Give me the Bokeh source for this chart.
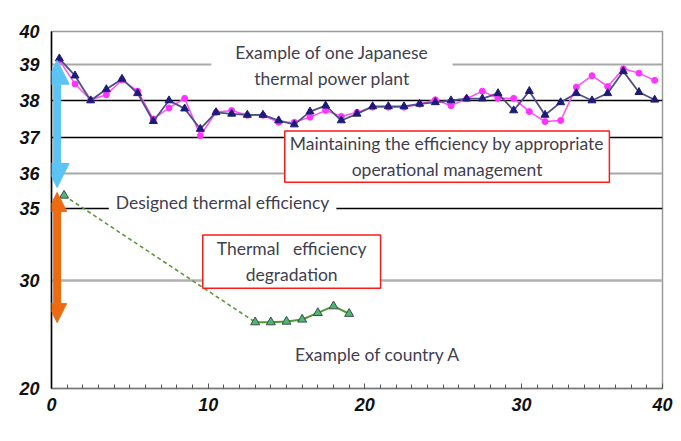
import numpy as np
from bokeh.plotting import figure
from bokeh.models import Range1d, FixedTicker, Span, Label, Arrow, NormalHead, ColumnDataSource
from bokeh.embed import file_html
from bokeh.resources import INLINE

# ---- data ----
jp_years = list(range(39))  # plotted at mid-year
jp_unit_a = [39.18, 38.69, 38.00, 38.31, 38.60, 38.20, 37.44, 38.00, 37.78, 37.23,
             37.68, 37.64, 37.61, 37.61, 37.46, 37.35, 37.70, 37.86, 37.46, 37.64,
             37.84, 37.84, 37.84, 37.91, 37.95, 38.00, 38.05, 38.05, 38.20, 37.73,
             38.26, 37.61, 37.95, 38.20, 38.00, 38.20, 38.81, 38.23, 38.02]
jp_unit_b = [39.13, 38.46, 38.02, 38.16, 38.57, 38.26, 37.50, 37.80, 38.06, 37.05,
             37.68, 37.73, 37.60, 37.60, 37.41, 37.41, 37.55, 37.73, 37.57, 37.68,
             37.82, 37.82, 37.82, 37.90, 38.02, 37.86, 38.05, 38.26, 38.06, 38.06,
             37.70, 37.43, 37.46, 38.37, 38.69, 38.39, 38.88, 38.76, 38.56]
design_year = [0.8]
design_eff = [35.37]
ca_years = [13, 14, 15, 16, 17, 18, 19]
ca_eff = [26.14, 26.14, 26.20, 26.39, 27.00, 27.62, 26.92]

blue_arrow = [35.6, 39.13]
orange_arrow = [26.1, 35.46]

y_tick_vals = [20, 30, 35, 36, 37, 38, 39, 40]
y_tick_pos = [0, 108, 180, 215, 251, 288, 324, 357]   # broken (non-linear) axis layout
x_ticks = [0, 10, 20, 30, 39]
x_tick_labels = ["0", "10", "20", "30", "40"]

def ymap(v):
    return np.interp(np.asarray(v, dtype=float), y_tick_vals, y_tick_pos)

txt_color = "#3f3f4f"
FONT = "Lato"
NUMFONT = "Liberation Sans"

p = figure(width=681, height=441, x_range=Range1d(0, 39), y_range=Range1d(0, 357),
           output_backend="svg", toolbar_location=None, title=None,
           min_border_left=51, min_border_right=19, min_border_top=31, min_border_bottom=53)
p.background_fill_color = "white"
p.border_fill_color = "white"
p.outline_line_color = "#9a9a9a"
p.outline_line_width = 1.5
p.xgrid.visible = False
p.ygrid.visible = False

# axes
p.xaxis.ticker = FixedTicker(ticks=x_ticks, minor_ticks=list(range(40)))
p.xaxis.major_label_overrides = {t: l for t, l in zip(x_ticks, x_tick_labels)}
p.xaxis.axis_line_color = "#7a7a7a"
p.xaxis.axis_line_width = 1.5
p.xaxis.major_tick_in = 5
p.xaxis.major_tick_out = 0
p.xaxis.minor_tick_in = 4
p.xaxis.minor_tick_out = 0
p.xaxis.major_tick_line_color = "#555555"
p.xaxis.minor_tick_line_color = "#555555"
p.xaxis.major_label_standoff = 9
p.yaxis.ticker = FixedTicker(ticks=y_tick_pos)
p.yaxis.major_label_overrides = {t: str(v) for t, v in zip(y_tick_pos, y_tick_vals)}
p.yaxis.axis_line_color = "black"
p.yaxis.axis_line_width = 1.5
p.yaxis.major_tick_line_color = None
p.yaxis.minor_tick_line_color = None
p.yaxis.major_label_standoff = 6
for ax in (p.xaxis, p.yaxis):
    ax.major_label_text_font = NUMFONT
    ax.major_label_text_font_style = "bold italic"
    ax.major_label_text_font_size = "18px"
    ax.major_label_text_color = "#111111"
p.yaxis.major_label_text_baseline = "hanging"

# horizontal reference lines
grid_styles = {39: ("#a8a8a8", 2), 38: ("black", 1.3), 37: ("black", 1.3),
               36: ("#a8a8a8", 2), 35: ("black", 1.3), 30: ("#b0b0b0", 2.5)}
for v, (c, w) in grid_styles.items():
    p.add_layout(Span(location=float(ymap(v)), dimension="width", line_color=c,
                      line_width=w, level="underlay"))

# Japanese plant series
src = ColumnDataSource(dict(x=[y + 0.5 for y in jp_years], a=ymap(jp_unit_a), b=ymap(jp_unit_b)))
p.line("x", "b", source=src, line_color="#ff4dff", line_width=1.5)
p.scatter("x", "b", source=src, marker="circle", size=6, fill_color="#ff33ff", line_color="#ff33ff")
p.line("x", "a", source=src, line_color="#4f4f85", line_width=1.8)
p.scatter("x", "a", source=src, marker="triangle", size=8, fill_color="#1c1c78", line_color="#1c1c78")

# Country A
p.line([design_year[0], ca_years[0]], ymap([design_eff[0], ca_eff[0]]),
       line_color="#5a9a3a", line_width=1.6, line_dash="4 3")
p.line(ca_years, ymap(ca_eff), line_color="#4f9a35", line_width=2)
p.scatter(design_year + ca_years, ymap(design_eff + ca_eff), marker="triangle", size=9,
          fill_color="#4cb878", line_color="#3d4d45", line_width=1)

# arrows
arrow_x = 0.36
for (lo, hi), c, hs, lw in ((blue_arrow, "#5cc4f4", 24, 8), (orange_arrow, "#ee6a10", 19, 8)):
    p.add_layout(Arrow(start=NormalHead(size=hs, fill_color=c, line_color=c),
                       end=NormalHead(size=hs, fill_color=c, line_color=c),
                       x_start=arrow_x, y_start=float(ymap(lo)), x_end=arrow_x, y_end=float(ymap(hi)),
                       line_color=c, line_width=lw))

def note(x, y, text, border=None, pad=(4, 2), size="17.5px", bg="white", lh=1.25):
    lab = Label(x=x, y=y, text=text, text_align="center", text_baseline="middle",
                text_font=FONT, text_font_size=size, text_color=txt_color,
                text_line_height=lh, background_fill_color=bg, padding=pad)
    if border:
        lab.border_line_color = border
        lab.border_line_width = 1.5
    p.add_layout(lab)

note(17.9, 323, "Example of one Japanese\nthermal power plant", pad=(24, 2))
note(25.25, 232, "Maintaining the efficiency by appropriate\noperational management", border="#ff1a1a", pad=(5, 2))
note(10.92, 186, "Designed thermal efficiency", pad=(7, 2))
note(15.33, 127, "Thermal\u00a0\u00a0\u00a0efficiency\ndegradation", border="#ff1a1a", pad=(14, 3))
note(20.82, 34, "Example of country A", bg=None)

# titles
p.add_layout(Label(x=-49, y=375, x_units="screen", y_units="screen",
                   text="Gross Thermal Efficiency(%, HHV)", text_align="left", text_baseline="middle",
                   text_font=FONT, text_font_size="14.5px", text_color="#444444"))
p.add_layout(Label(x=284, y=-44, x_units="screen", y_units="screen",
                   text="Number of years after operation startup", text_align="center", text_baseline="middle",
                   text_font=FONT, text_font_size="16px", text_font_style="bold", text_color="#3f3f4f"))

open("out.html", "w").write(file_html(p, INLINE))
